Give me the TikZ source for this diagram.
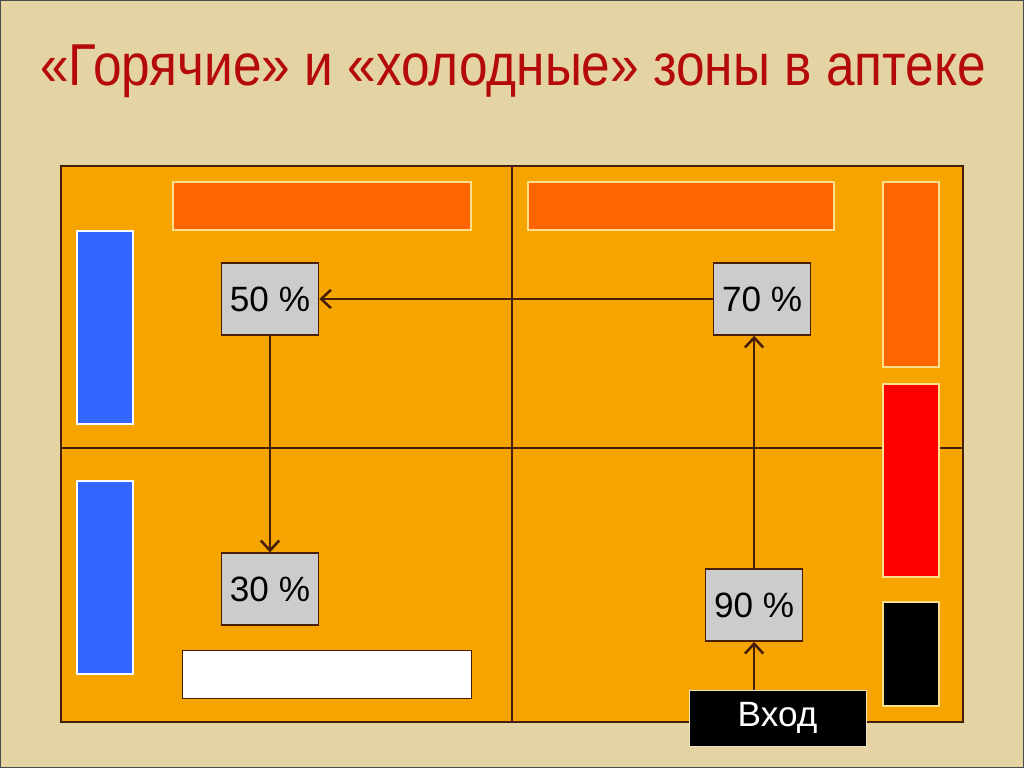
\documentclass[tikz,border=0pt]{standalone}
\usepackage{fontspec}
\setmainfont{Liberation Sans}
\usetikzlibrary{arrows.meta}
\definecolor{parchment}{RGB}{228,211,163}
\definecolor{floor}{RGB}{246,165,0}
\definecolor{wallline}{RGB}{70,30,10}
\definecolor{hotshelf}{RGB}{255,102,0}
\definecolor{coldshelf}{RGB}{51,102,255}
\definecolor{boxgray}{RGB}{204,204,204}
\definecolor{titlered}{RGB}{180,10,10}
\definecolor{shelfline}{RGB}{255,222,140}
\tikzstyle{pct} = [rectangle, minimum width=2.425cm, minimum height=1.8cm, text centered, draw=wallline, line width=1.1pt, fill=boxgray, font=\fontsize{25}{30}\selectfont]
\tikzstyle{entrance} = [rectangle, minimum width=4.425cm, minimum height=1.4cm, text centered, draw=parchment!60, thin, fill=black, text=white, font=\fontsize{25}{30}\selectfont]
\tikzstyle{shelf} = [draw=shelfline, line width=0.8pt]
\tikzstyle{arrow} = [line width=1.8pt, draw=wallline, -{Straight Barb[length=7pt,width=13pt]}]

\begin{document}
\begin{tikzpicture}[x=0.025cm, y=-0.025cm, node distance=7.25cm]
\useasboundingbox (0,0) rectangle (1024,768);
\fill [parchment] (0,0) rectangle (1024,768);
\draw [black!70, line width=1pt] (0.5,0.5) rectangle (1023.5,767.5);

% title
\node (title) [text=titlered, xscale=0.87, font=\fontsize{42}{50}\selectfont] at (513,71) {«Горячие» и «холодные» зоны в аптеке};

% floor plan
\filldraw [fill=floor, draw=wallline, line width=1.1pt] (61,166) rectangle (963,722);
\draw [wallline, line width=1.1pt] (512,166) -- (512,722);
\draw [wallline, line width=1.1pt] (61,448) -- (963,448);

% shelves
\filldraw [shelf, fill=hotshelf] (173,182) rectangle (471,230);
\filldraw [shelf, fill=hotshelf] (528,182) rectangle (834,230);
\filldraw [shelf, fill=hotshelf] (883,182) rectangle (939,367);
\filldraw [shelf, fill=red] (883,384) rectangle (939,577);
\filldraw [shelf, fill=black] (883,602) rectangle (939,706);
\filldraw [draw=white, line width=0.8pt, fill=coldshelf] (77,231) rectangle (133,424);
\filldraw [draw=white, line width=0.8pt, fill=coldshelf] (77,481) rectangle (133,674);
\filldraw [draw=wallline, fill=white] (182,650) rectangle (471,698);

% zones
\node (p50) [pct] at (270,299) {50 \%};
\node (p30) [pct, below of=p50] {30 \%};
\node (p70) [pct, right of=p50, xshift=5.05cm] {70 \%};
\node (p90) [pct, below of=p70, xshift=-0.2cm, yshift=-0.4cm] {90 \%};
\node (vhod) [entrance] at (777.5,718) {Вход};

\draw [arrow] (vhod.north -| p90) -- (p90);
\draw [arrow] (p90) -- (p90 |- p70.south);
\draw [arrow] (p70) -- (p50);
\draw [arrow] (p50) -- (p30);

\end{tikzpicture}
\end{document}
